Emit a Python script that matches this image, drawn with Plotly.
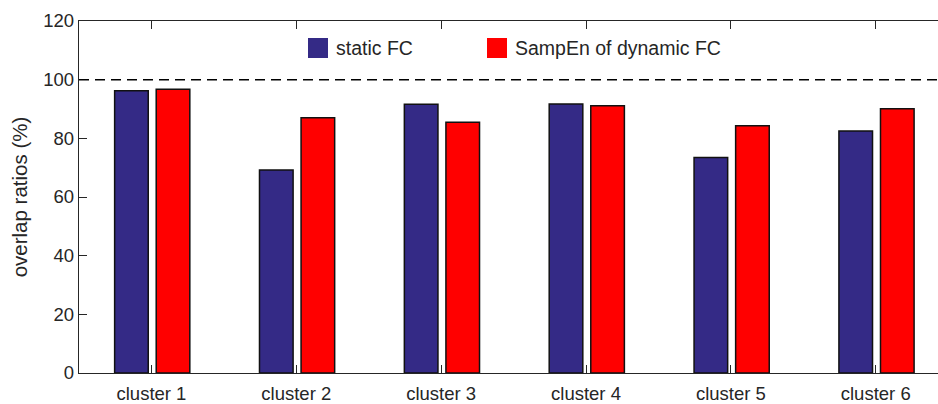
import plotly.graph_objects as go

# Overlap ratios per cluster
clusters = ["cluster 1", "cluster 2", "cluster 3", "cluster 4", "cluster 5", "cluster 6"]
static_fc = [96.2, 69.2, 91.6, 91.7, 73.5, 82.5]
sampen_dynamic_fc = [96.7, 87.0, 85.5, 91.1, 84.3, 90.1]
series_names = ["static FC", "SampEn of dynamic FC"]
series_colors = ["#342a86", "#ff0000"]
y_ticks = [0, 20, 40, 60, 80, 100, 120]
reference_level = 100

W, H = 938, 404
M_L, M_R, M_T, M_B = 79, 0, 21, 31
FONT = "Liberation Sans, Arial, Helvetica, sans-serif"
TXT = "#262626"

fig = go.Figure()
for vals, color, off in [(static_fc, series_colors[0], -0.254),
                         (sampen_dynamic_fc, series_colors[1], 0.033)]:
    fig.add_trace(go.Bar(
        x=clusters, y=vals, width=0.232, offset=off,
        marker=dict(color=color, line=dict(color="#111111", width=1.5)),
        showlegend=False,
    ))

# dashed reference line
fig.add_shape(type="line", xref="paper", yref="y", x0=0, x1=1,
              y0=reference_level, y1=reference_level,
              line=dict(color="black", width=1.5, dash="10px,6px"))

# legend drawn as swatches + labels
pw = W - M_L - M_R
ph = H - M_T - M_B
def px(x):
    return (x - M_L) / pw
def py(y):
    return 1 - (y - M_T) / ph

legend_items = [(308, 334), (487, 513)]
for (sx, tx), name, color in zip(legend_items, series_names, series_colors):
    fig.add_shape(type="rect", xref="paper", yref="paper",
                  x0=px(sx), x1=px(sx + 20), y0=py(58), y1=py(38),
                  fillcolor=color, line=dict(width=0))
    fig.add_annotation(xref="paper", yref="paper", x=px(tx), y=py(48),
                       text=name, showarrow=False, xanchor="left", yanchor="middle",
                       font=dict(family=FONT, size=19.5, color=TXT))

fig.update_layout(
    width=W, height=H,
    margin=dict(l=M_L, r=M_R, t=M_T, b=M_B),
    paper_bgcolor="white", plot_bgcolor="white",
    barmode="overlay",
    font=dict(family=FONT, size=18.5, color=TXT),
    xaxis=dict(
        type="category", range=[-0.5, 5.43],
        showline=True, linecolor=TXT, linewidth=1.3, mirror="ticks",
        ticks="inside", ticklen=8, tickwidth=1.3, tickcolor=TXT,
        showgrid=False, zeroline=False, ticklabelstandoff=4,
        tickfont=dict(family=FONT, size=18.5, color=TXT),
    ),
    yaxis=dict(
        range=[0, 120], tickvals=y_ticks,
        showline=True, linecolor=TXT, linewidth=1.3, mirror=False,
        ticks="inside", ticklen=8, tickwidth=1.3, tickcolor=TXT,
        showgrid=False, zeroline=False,
        tickfont=dict(family=FONT, size=18.5, color=TXT),
        title=dict(text="overlap ratios (%)", standoff=10,
                   font=dict(family=FONT, size=20.5, color=TXT)),
    ),
)

fig.write_html("out.html")
